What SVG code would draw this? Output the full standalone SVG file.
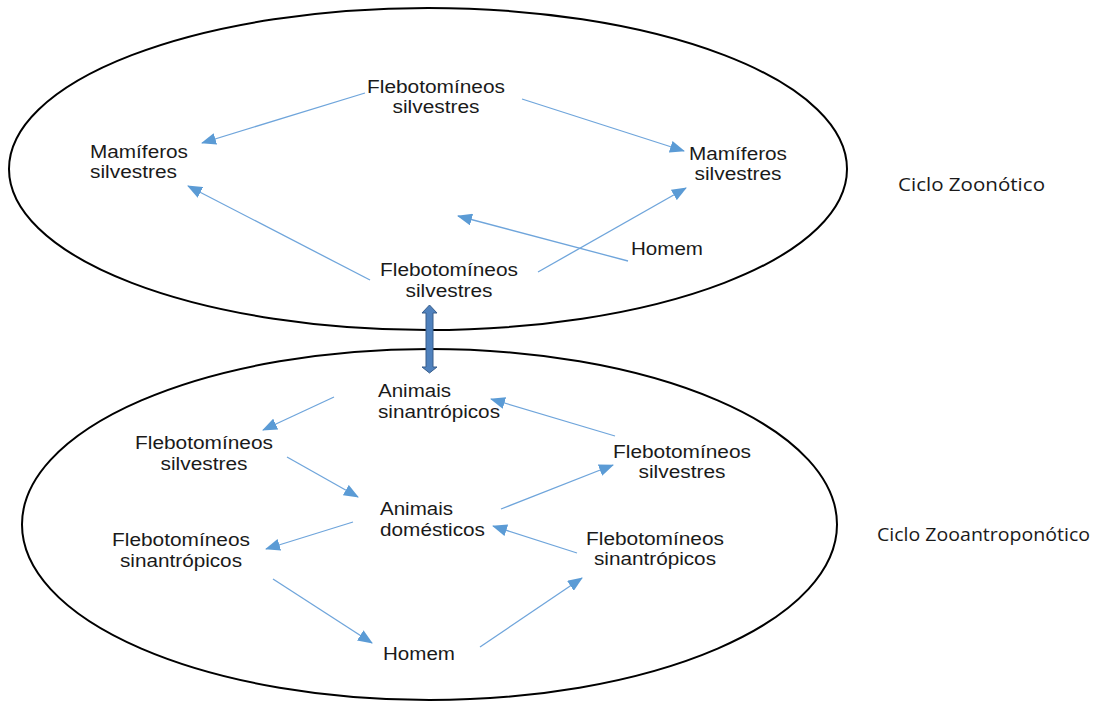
<svg xmlns="http://www.w3.org/2000/svg" width="1102" height="702" viewBox="0 0 1102 702">
<style>
.ell{fill:none;stroke:#000;stroke-width:2}
.t{font-family:"Liberation Sans",Arial,sans-serif;font-size:17.5px;fill:#1a1a1a}
.c{text-anchor:middle}
.lab{font-family:"Open Sans","Noto Sans",sans-serif;font-size:18px;fill:#1a1a1a}
.ar{stroke:#6fa5db;stroke-width:1.3;fill:none;marker-end:url(#ah)}
</style>
<defs>
<marker id="ah" markerUnits="userSpaceOnUse" markerWidth="15" markerHeight="12" refX="14" refY="6" orient="auto">
<path d="M0,0 L15,6 L0,12 z" fill="#5b9bd5"/>
</marker>
</defs>
<g id="cycle-zoonotic">
<ellipse class="ell" cx="428" cy="169" rx="419" ry="161"/>
</g>
<g id="cycle-zooanthroponotic">
<ellipse class="ell" cx="429.5" cy="524.5" rx="407.5" ry="175.5"/>
</g>
<g id="connectors">
<line class="ar" x1="365" y1="93" x2="202" y2="143"/>
<line class="ar" x1="522" y1="99" x2="684" y2="151"/>
<line class="ar" x1="370" y1="280" x2="188" y2="186"/>
<line class="ar" x1="538" y1="272" x2="686" y2="188"/>
<line class="ar" x1="628" y1="261" x2="458" y2="216"/>
<line class="ar" x1="334" y1="397" x2="263" y2="430"/>
<line class="ar" x1="615" y1="436" x2="491" y2="399"/>
<line class="ar" x1="287" y1="457" x2="358" y2="497"/>
<line class="ar" x1="501" y1="509" x2="613" y2="465"/>
<line class="ar" x1="353" y1="522" x2="266" y2="549"/>
<line class="ar" x1="577" y1="553" x2="493" y2="526"/>
<line class="ar" x1="273" y1="579" x2="372" y2="643"/>
<line class="ar" x1="480" y1="647" x2="582" y2="578"/>
<path id="double-arrow" d="M429.5,305 L437,313 L433,313 L433,367 L437,367 L429.5,373 L422,367 L426,367 L426,313 L422,313 z" fill="#4f81bd" stroke="#385d8a" stroke-width="1"/>
</g>
<g id="n-fleb-silv-top"><text class="t c" x="436" y="93" textLength="138" lengthAdjust="spacingAndGlyphs">Flebotomíneos</text><text class="t c" x="436" y="113" textLength="87" lengthAdjust="spacingAndGlyphs">silvestres</text></g>
<g id="n-mam-left"><text class="t" x="90" y="158" textLength="98" lengthAdjust="spacingAndGlyphs">Mamíferos</text><text class="t" x="90" y="178" textLength="87" lengthAdjust="spacingAndGlyphs">silvestres</text></g>
<g id="n-mam-right"><text class="t c" x="738" y="160" textLength="98" lengthAdjust="spacingAndGlyphs">Mamíferos</text><text class="t c" x="738" y="180" textLength="87" lengthAdjust="spacingAndGlyphs">silvestres</text></g>
<g id="n-homem-top"><text class="t" x="631" y="255" textLength="72" lengthAdjust="spacingAndGlyphs">Homem</text></g>
<g id="n-fleb-silv-bottom"><text class="t c" x="449" y="276" textLength="138" lengthAdjust="spacingAndGlyphs">Flebotomíneos</text><text class="t c" x="449" y="297" textLength="87" lengthAdjust="spacingAndGlyphs">silvestres</text></g>
<g id="n-animais-sin"><text class="t" x="378" y="397" textLength="73" lengthAdjust="spacingAndGlyphs">Animais</text><text class="t" x="378" y="418" textLength="122" lengthAdjust="spacingAndGlyphs">sinantrópicos</text></g>
<g id="n-fleb-silv-left"><text class="t c" x="204" y="449" textLength="138" lengthAdjust="spacingAndGlyphs">Flebotomíneos</text><text class="t c" x="204" y="470" textLength="87" lengthAdjust="spacingAndGlyphs">silvestres</text></g>
<g id="n-animais-dom"><text class="t" x="380" y="515" textLength="73" lengthAdjust="spacingAndGlyphs">Animais</text><text class="t" x="380" y="536" textLength="105" lengthAdjust="spacingAndGlyphs">domésticos</text></g>
<g id="n-fleb-silv-right"><text class="t c" x="682" y="458" textLength="138" lengthAdjust="spacingAndGlyphs">Flebotomíneos</text><text class="t c" x="682" y="478" textLength="87" lengthAdjust="spacingAndGlyphs">silvestres</text></g>
<g id="n-fleb-sin-right"><text class="t c" x="655" y="545" textLength="138" lengthAdjust="spacingAndGlyphs">Flebotomíneos</text><text class="t c" x="655" y="565" textLength="122" lengthAdjust="spacingAndGlyphs">sinantrópicos</text></g>
<g id="n-fleb-sin-left"><text class="t c" x="181" y="546" textLength="138" lengthAdjust="spacingAndGlyphs">Flebotomíneos</text><text class="t c" x="181" y="567" textLength="122" lengthAdjust="spacingAndGlyphs">sinantrópicos</text></g>
<g id="n-homem-bottom"><text class="t" x="383" y="660" textLength="72" lengthAdjust="spacingAndGlyphs">Homem</text></g>
<g id="labels">
<text class="lab" x="898" y="191" textLength="147" lengthAdjust="spacingAndGlyphs">Ciclo Zoonótico</text>
<text class="lab" x="877" y="541" textLength="213" lengthAdjust="spacingAndGlyphs">Ciclo Zooantroponótico</text>
</g>
</svg>
